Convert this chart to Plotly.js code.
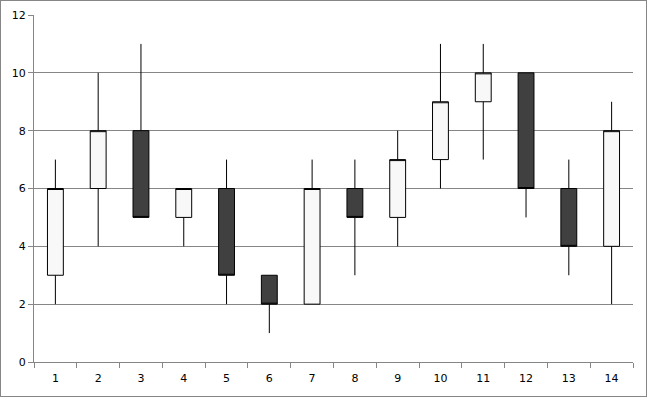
<!DOCTYPE html>
<html>
<head>
<meta charset="utf-8">
<script src="https://cdn.plot.ly/plotly-3.0.1.min.js"></script>
<style>
html,body{margin:0;padding:0;background:#fff;}
#chart{width:645px;height:395px;border:1px solid #868686;}
</style>
</head>
<body>
<div id="chart"></div>
<script>
const categories = ["1","2","3","4","5","6","7","8","9","10","11","12","13","14"];
const openVals  = [3, 6, 8, 5, 6, 3, 2, 6, 5, 7, 9, 10, 6, 4];
const highVals  = [7, 10, 11, 6, 7, 3, 7, 7, 8, 11, 11, 10, 7, 9];
const lowVals   = [2, 4, 5, 4, 2, 1, 2, 3, 4, 6, 7, 5, 3, 2];
const closeVals = [6, 8, 5, 6, 3, 2, 6, 5, 7, 9, 10, 6, 4, 8];
const yTicks = [0, 2, 4, 6, 8, 10, 12];

const trace = {
  type: 'candlestick',
  x: categories,
  open: openVals,
  high: highVals,
  low: lowVals,
  close: closeVals,
  increasing: {line: {color: '#000000', width: 1}, fillcolor: '#f8f8f8'},
  decreasing: {line: {color: '#000000', width: 1}, fillcolor: '#404040'},
  whiskerwidth: 0,
  hoverinfo: 'none'
};

const layout = {
  width: 645,
  height: 395,
  margin: {l: 33, r: 13, t: 14, b: 34},
  paper_bgcolor: '#ffffff',
  plot_bgcolor: '#ffffff',
  showlegend: false,
  boxgap: 0.47,
  font: {family: 'DejaVu Sans, sans-serif', size: 11, color: '#000000'},
  xaxis: {
    type: 'category',
    categoryorder: 'array',
    categoryarray: categories,
    range: [-0.5, 13.5],
    tickson: 'boundaries',
    ticks: 'outside',
    ticklen: 5,
    tickcolor: '#868686',
    ticklabelstandoff: 6,
    showline: true,
    linecolor: '#868686',
    linewidth: 1,
    showgrid: false,
    zeroline: false,
    rangeslider: {visible: false},
    fixedrange: true
  },
  yaxis: {
    range: [0, 12],
    tickvals: yTicks,
    ticktext: yTicks.map(String),
    ticks: 'outside',
    ticklen: 5,
    tickcolor: '#868686',
    showline: true,
    linecolor: '#868686',
    linewidth: 1,
    showgrid: true,
    gridcolor: '#868686',
    gridwidth: 1,
    zeroline: false,
    fixedrange: true
  }
};

Plotly.newPlot('chart', [trace], layout, {displayModeBar: false, staticPlot: true});
</script>
</body>
</html>
